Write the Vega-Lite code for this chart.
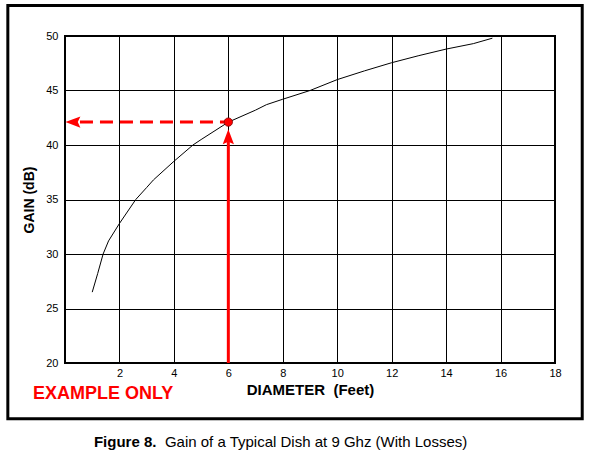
{
  "$schema": "https://vega.github.io/schema/vega-lite/v6.json",
  "width": 490,
  "height": 327,
  "autosize": {"type": "none"},
  "padding": {"left": 65, "top": 36, "right": 34, "bottom": 96},
  "background": "white",
  "config": {
    "view": {"stroke": "black", "strokeWidth": 2},
    "font": "Liberation Sans",
    "axis": {
      "labelFont": "Liberation Sans",
      "labelFontSize": 11,
      "labelColor": "black",
      "labelFlush": false,
      "grid": true,
      "gridColor": "black",
      "gridOpacity": 1,
      "gridWidth": 1,
      "domain": false,
      "ticks": false,
      "titleFont": "Liberation Sans",
      "titleFontSize": 14,
      "titleFontWeight": "bold",
      "titleColor": "black"
    }
  },
  "datasets": {
    "curve": [
      {"diameter": 1.0, "gain": 26.5},
      {"diameter": 1.2, "gain": 28.2},
      {"diameter": 1.4, "gain": 30.0},
      {"diameter": 1.6, "gain": 31.2},
      {"diameter": 2.0, "gain": 32.8},
      {"diameter": 2.6, "gain": 35.0},
      {"diameter": 3.0, "gain": 36.1},
      {"diameter": 3.25, "gain": 36.8},
      {"diameter": 4.0, "gain": 38.5},
      {"diameter": 4.7, "gain": 40.0},
      {"diameter": 5.0, "gain": 40.5},
      {"diameter": 6.0, "gain": 42.1},
      {"diameter": 7.0, "gain": 43.2},
      {"diameter": 7.4, "gain": 43.7},
      {"diameter": 8.0, "gain": 44.2},
      {"diameter": 9.0, "gain": 45.0},
      {"diameter": 10.0, "gain": 46.0},
      {"diameter": 11.0, "gain": 46.8},
      {"diameter": 12.0, "gain": 47.55},
      {"diameter": 13.0, "gain": 48.2},
      {"diameter": 14.0, "gain": 48.8},
      {"diameter": 15.0, "gain": 49.3},
      {"diameter": 15.7, "gain": 49.8}
    ],
    "frame": [{"x": -2.1, "x2": 19.0, "y": 14.89, "y2": 52.8}],
    "vline": [{"x": 6, "y": 20, "y2": 40.6}],
    "hline": [{"x": 0.55, "x2": 6, "y": 42.1}],
    "arrows": [
      {"x": 6, "y": 40.75, "dir": "up"},
      {"x": 0.29, "y": 42.1, "dir": "left"}
    ],
    "dot": [{"x": 6, "y": 42.1}],
    "example": [{"x": -1.18, "y": 16.7, "label": "EXAMPLE ONLY"}],
    "caption": [
      {"x": 3.36, "y": 12.3, "label": "Figure 8.", "part": "bold"},
      {"x": 3.67, "y": 12.3, "label": "Gain of a Typical Dish at 9 Ghz (With Losses)", "part": "normal"}
    ]
  },
  "layer": [
    {
      "data": {"name": "curve"},
      "mark": {"type": "line", "color": "black", "strokeWidth": 1},
      "encoding": {
        "x": {
          "field": "diameter", "type": "quantitative",
          "scale": {"domain": [0, 18], "nice": false, "zero": false},
          "axis": {"values": [2, 4, 6, 8, 10, 12, 14, 16, 18], "labelPadding": 4, "title": "DIAMETER\u00a0\u00a0(Feet)", "titleFontSize": 15, "titlePadding": 4}
        },
        "y": {
          "field": "gain", "type": "quantitative",
          "scale": {"domain": [20, 50], "nice": false, "zero": false},
          "axis": {"values": [20, 25, 30, 35, 40, 45, 50], "labelPadding": 7, "title": "GAIN (dB)", "titlePadding": 9}
        }
      }
    },
    {
      "data": {"name": "frame"},
      "mark": {"type": "rect", "fill": null, "fillOpacity": 0, "stroke": "black", "strokeWidth": 3},
      "encoding": {
        "x": {"field": "x", "type": "quantitative"},
        "x2": {"field": "x2"},
        "y": {"field": "y", "type": "quantitative"},
        "y2": {"field": "y2"}
      }
    },
    {
      "data": {"name": "vline"},
      "mark": {"type": "rule", "color": "#FF0000", "strokeWidth": 3},
      "encoding": {
        "x": {"field": "x", "type": "quantitative"},
        "y": {"field": "y", "type": "quantitative"},
        "y2": {"field": "y2"}
      }
    },
    {
      "data": {"name": "hline"},
      "mark": {"type": "rule", "color": "#FF0000", "strokeWidth": 3, "strokeDash": [13, 7]},
      "encoding": {
        "x": {"field": "x", "type": "quantitative"},
        "x2": {"field": "x2"},
        "y": {"field": "y", "type": "quantitative"}
      }
    },
    {
      "data": {"name": "arrows"},
      "mark": {"type": "point", "filled": true, "color": "#FF0000", "opacity": 1, "size": 225},
      "encoding": {
        "x": {"field": "x", "type": "quantitative"},
        "y": {"field": "y", "type": "quantitative"},
        "shape": {
          "field": "dir", "type": "nominal", "legend": null,
          "scale": {"domain": ["up", "left"], "range": ["M0,-1L0.75,1L0,0.65L-0.75,1Z", "M-1,0L1,-0.75L0.65,0L1,0.75Z"]}
        }
      }
    },
    {
      "data": {"name": "dot"},
      "mark": {"type": "point", "filled": true, "fill": "#FF0000", "stroke": "#800000", "strokeWidth": 0.8, "opacity": 1, "size": 70, "shape": "circle"},
      "encoding": {
        "x": {"field": "x", "type": "quantitative"},
        "y": {"field": "y", "type": "quantitative"}
      }
    },
    {
      "data": {"name": "example"},
      "mark": {"type": "text", "color": "#FF0000", "fontSize": 18, "fontWeight": "bold", "font": "Liberation Sans", "align": "left", "baseline": "alphabetic"},
      "encoding": {
        "x": {"field": "x", "type": "quantitative"},
        "y": {"field": "y", "type": "quantitative"},
        "text": {"field": "label"}
      }
    },
    {
      "data": {"name": "caption"},
      "transform": [{"filter": "datum.part == 'bold'"}],
      "mark": {"type": "text", "color": "black", "fontSize": 15, "fontWeight": "bold", "font": "Liberation Sans", "align": "right", "baseline": "alphabetic"},
      "encoding": {
        "x": {"field": "x", "type": "quantitative"},
        "y": {"field": "y", "type": "quantitative"},
        "text": {"field": "label"}
      }
    },
    {
      "data": {"name": "caption"},
      "transform": [{"filter": "datum.part == 'normal'"}],
      "mark": {"type": "text", "color": "black", "fontSize": 15, "font": "Liberation Sans", "align": "left", "baseline": "alphabetic"},
      "encoding": {
        "x": {"field": "x", "type": "quantitative"},
        "y": {"field": "y", "type": "quantitative"},
        "text": {"field": "label"}
      }
    }
  ]
}
